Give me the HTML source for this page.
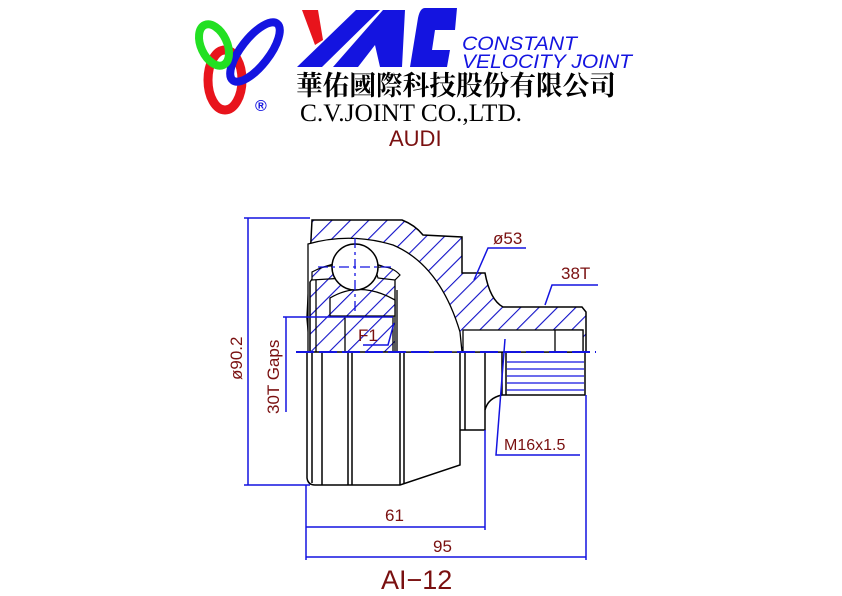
<!DOCTYPE html>
<html><head><meta charset="utf-8"><style>
html,body{margin:0;padding:0;background:#fff;}
svg{display:block;}
text{font-family:"Liberation Sans",sans-serif;}
</style></head><body>
<svg width="842" height="596" viewBox="0 0 842 596" xmlns="http://www.w3.org/2000/svg">
<defs>
<pattern id="h" patternUnits="userSpaceOnUse" width="13" height="13" patternTransform="rotate(45)">
<rect width="13" height="13" fill="#fff"/>
<line x1="0" y1="0" x2="0" y2="13" stroke="#1010c8" stroke-width="2.2"/>
</pattern>
</defs>
<!-- Logo rings -->
<ellipse cx="225" cy="80" rx="17" ry="30" fill="none" stroke="#e8141c" stroke-width="9"/>
<ellipse cx="255" cy="52" rx="36" ry="14" transform="rotate(-52 255 52)" fill="none" stroke="#1414e0" stroke-width="8"/>
<ellipse cx="214" cy="45" rx="13" ry="22" transform="rotate(-25 214 45)" fill="none" stroke="#22e022" stroke-width="8"/>
<text x="255" y="111" font-size="16" fill="#1414e0" font-weight="bold">®</text>
<!-- YAC -->
<polygon points="302,10 318,10 323,40 315,45" fill="#e8141c"/>
<polygon points="297,67 322,67 380,10 356,10" fill="#1414e0"/>
<polygon points="333,67 358,67 375,45 380,67 402,67 405,10 383,10" fill="#1414e0"/>
<path d="M425,8 L457,8 L455,30 L435,30 L432,50 L450,50 L447,67 L410,67 L418,18 Q420,8 425,8 Z" fill="#1414e0"/>
<text x="462" y="50" font-size="19" font-style="italic" fill="#1414e0" textLength="115" lengthAdjust="spacingAndGlyphs">CONSTANT</text>
<text x="462" y="68" font-size="19" font-style="italic" fill="#1414e0" textLength="170" lengthAdjust="spacingAndGlyphs">VELOCITY  JOINT</text>
<text x="296" y="95" font-size="27" font-weight="bold" fill="#000" style="font-family:'Noto Serif CJK SC','Noto Sans CJK TC',sans-serif" textLength="320" lengthAdjust="spacingAndGlyphs">華佑國際科技股份有限公司</text>
<text x="300" y="121" font-size="25" fill="#000" style="font-family:'Liberation Serif',serif" textLength="222" lengthAdjust="spacingAndGlyphs">C.V.JOINT CO.,LTD.</text>
<text x="389" y="146" font-size="22" fill="#7a1010">AUDI</text>

<!-- upper hatched housing -->
<path d="M312,220 L402,220 Q415,225 423,235 L462,237 L462,273 L485,273 Q490,300 503,307 L582,307 L586,312 L586,352 L310,352 L307,318 Z" fill="url(#h)" stroke="#000" stroke-width="1.5"/>
<!-- inner cavity whites -->
<path d="M308,244 Q350,232 393,245 Q440,265 460,332 L462,352 L395,352 L395,272 Q370,258 340,262 L320,268 L310,282 L310,352 L308,352 Z" fill="#fff" stroke="#000" stroke-width="1.3"/>
<path d="M330,298 Q360,280 395,300 L395,316 L330,316 Z" fill="url(#h)" stroke="#000" stroke-width="1.3"/>
<path d="M312,272 Q330,262 345,268 L345,278 L312,280 Z" fill="url(#h)" stroke="#000" stroke-width="1.2"/>
<path d="M375,268 Q390,264 400,275 L395,280 L378,278 Z" fill="url(#h)" stroke="#000" stroke-width="1.2"/>
<circle cx="355" cy="267" r="23" fill="#fff" stroke="#000" stroke-width="1.5"/>
<rect x="463" y="330" width="120" height="22" fill="#fff" stroke="#000" stroke-width="1.3"/>
<rect x="555" y="330" width="28" height="22" fill="#fff" stroke="#000" stroke-width="1.3"/>
<line x1="310" y1="282" x2="310" y2="352" stroke="#000" stroke-width="1.3"/>
<line x1="316" y1="280" x2="316" y2="352" stroke="#000" stroke-width="1.3"/>
<line x1="345" y1="316" x2="345" y2="352" stroke="#000" stroke-width="1.3"/>
<line x1="393" y1="316" x2="393" y2="352" stroke="#000" stroke-width="1.3"/>
<line x1="397" y1="290" x2="397" y2="352" stroke="#000" stroke-width="1.3"/>
<line x1="355" y1="238" x2="355" y2="315" stroke="#1414e0" stroke-width="1.3" stroke-dasharray="10,4,3,4"/>
<line x1="318" y1="267" x2="395" y2="267" stroke="#1414e0" stroke-width="1.3" stroke-dasharray="10,4,3,4"/>

<!-- lower half -->
<g fill="none" stroke="#000" stroke-width="1.5">
<path d="M307,352 L307,478 Q308,485 315,485 L400,485 L460,465 L460,352"/>
<line x1="312" y1="352" x2="312" y2="483"/>
<line x1="322" y1="352" x2="322" y2="485"/>
<line x1="348" y1="352" x2="348" y2="485"/>
<line x1="352" y1="352" x2="352" y2="485"/>
<line x1="400" y1="352" x2="400" y2="485"/>
<line x1="404" y1="352" x2="404" y2="484"/>
<path d="M460,430 L485,430 L485,352"/>
<line x1="465" y1="352" x2="465" y2="430"/>
<path d="M485,410 Q488,398 502,395 L585,395 L585,352"/>
<line x1="502" y1="352" x2="502" y2="395"/>
<line x1="506" y1="352" x2="506" y2="395"/>
</g>
<g stroke="#1414e0" stroke-width="1.2">
<line x1="507" y1="362" x2="584" y2="362"/>
<line x1="507" y1="369" x2="584" y2="369"/>
<line x1="507" y1="376" x2="584" y2="376"/>
<line x1="507" y1="383" x2="584" y2="383"/>
<line x1="507" y1="390" x2="584" y2="390"/>
</g>
<!-- centerline -->
<line x1="296" y1="352" x2="596" y2="352" stroke="#1414e0" stroke-width="2" stroke-dasharray="18,5"/>

<!-- dimensions -->
<g stroke="#1414e0" stroke-width="1.5" fill="none">
<line x1="248" y1="218" x2="248" y2="485"/>
<line x1="244" y1="218" x2="310" y2="218"/>
<line x1="244" y1="485" x2="310" y2="485"/>
<line x1="286" y1="317" x2="286" y2="412"/>
<line x1="283" y1="317" x2="393" y2="317"/>
<line x1="306" y1="485" x2="306" y2="560"/>
<line x1="485" y1="430" x2="485" y2="530"/>
<line x1="586" y1="395" x2="586" y2="560"/>
<line x1="306" y1="527" x2="485" y2="527"/>
<line x1="306" y1="557" x2="586" y2="557"/>
<polyline points="474,280 488,248 526,248"/>
<polyline points="545,305 552,285 598,285"/>
<polyline points="505,339 496,455 580,455"/>
<polyline points="363,345 388,345 394,323"/>
</g>
<g fill="#7a1010">
<text x="493" y="244" font-size="17">ø53</text>
<text x="561" y="279" font-size="17">38T</text>
<text x="504" y="450" font-size="16">M16x1.5</text>
<text x="358" y="341" font-size="17">F1</text>
<text x="385" y="521" font-size="17">61</text>
<text x="433" y="552" font-size="17">95</text>
<text x="381" y="589" font-size="27">AI−12</text>
<text transform="translate(242 380) rotate(-90)" font-size="17">ø90.2</text>
<text transform="translate(279 414) rotate(-90)" font-size="17">30T Gaps</text>
</g>
</svg>
</body></html>
